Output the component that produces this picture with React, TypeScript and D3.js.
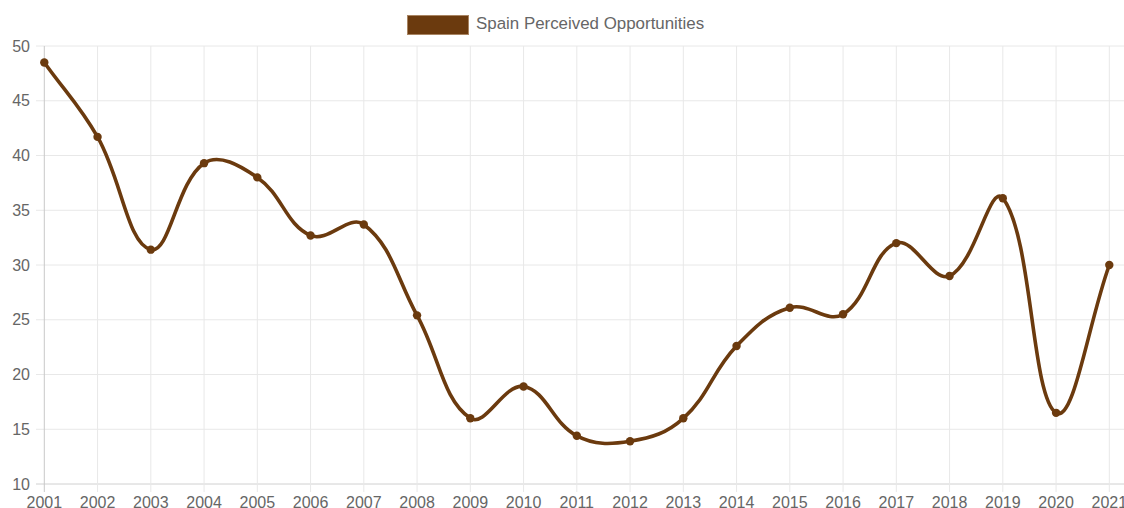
import React from 'react';
import * as d3 from 'd3';

const years = ['2001','2002','2003','2004','2005','2006','2007','2008','2009','2010','2011','2012','2013','2014','2015','2016','2017','2018','2019','2020','2021'];
const values = [48.5, 41.7, 31.4, 39.3, 38.0, 32.7, 33.7, 25.4, 16.0, 18.9, 14.4, 13.9, 16.0, 22.6, 26.1, 25.5, 32.0, 29.0, 36.1, 16.5, 30.0];
const yTicks = [10, 15, 20, 25, 30, 35, 40, 45, 50];
const seriesName = 'Spain Perceived Opportunities';

const W = 1124, H = 508;
const left = 44.3, right = 1109.3, top = 46, bottom = 484;
const color = '#6B3A0E';
const font = '"Liberation Sans", Arial, Helvetica, sans-serif';

function splinePath(pts: [number, number][], t: number): string {
  const n = pts.length;
  const cps = pts.map((cur, i) => {
    const prev = i > 0 ? pts[i - 1] : cur;
    const next = i < n - 1 ? pts[i + 1] : cur;
    const d01 = Math.hypot(cur[0] - prev[0], cur[1] - prev[1]);
    const d12 = Math.hypot(next[0] - cur[0], next[1] - cur[1]);
    let s01 = d01 / (d01 + d12);
    let s12 = d12 / (d01 + d12);
    if (isNaN(s01)) s01 = 0;
    if (isNaN(s12)) s12 = 0;
    const fa = t * s01, fb = t * s12;
    const clampX = (v: number) => Math.max(left, Math.min(right, v));
    const clampY = (v: number) => Math.max(top, Math.min(bottom, v));
    return {
      p: [clampX(cur[0] - fa * (next[0] - prev[0])), clampY(cur[1] - fa * (next[1] - prev[1]))],
      n: [clampX(cur[0] + fb * (next[0] - prev[0])), clampY(cur[1] + fb * (next[1] - prev[1]))],
    };
  });
  const path = d3.path();
  path.moveTo(pts[0][0], pts[0][1]);
  for (let i = 0; i < n - 1; i++) {
    path.bezierCurveTo(cps[i].n[0], cps[i].n[1], cps[i + 1].p[0], cps[i + 1].p[1], pts[i + 1][0], pts[i + 1][1]);
  }
  return path.toString();
}

export default function App() {
  const x = d3.scalePoint<string>().domain(years).range([left, right]);
  const y = d3.scaleLinear().domain([10, 50]).range([bottom, top]);
  const pts: [number, number][] = years.map((yr, i) => [x(yr) as number, y(values[i])]);
  const d = splinePath(pts, 0.4);

  return (
    <svg width={W} height={H} style={{ position: 'absolute', left: 0, top: 0, background: '#fff' }}>
      {yTicks.map((t) => (
        <line key={'h' + t} x1={36} x2={W} y1={y(t)} y2={y(t)} stroke={t === 10 ? '#d0d0d0' : '#e8e8e8'} strokeWidth={1} />
      ))}
      {years.map((yr, i) => (
        <line key={'v' + yr} x1={x(yr)} x2={x(yr)} y1={top} y2={bottom + 8} stroke={i === 0 ? '#c8c8c8' : '#e8e8e8'} strokeWidth={1} />
      ))}
      {yTicks.map((t) => (
        <text key={'yl' + t} x={30} y={y(t)} dy="0.35em" textAnchor="end" fontFamily={font} fontSize={16} fill="#666">{t}</text>
      ))}
      {years.map((yr) => (
        <text key={'xl' + yr} x={x(yr)} y={507.5} textAnchor="middle" fontFamily={font} fontSize={16} fill="#666">{yr}</text>
      ))}
      <path d={d} fill="none" stroke={color} strokeWidth={3.6} strokeLinejoin="round" />
      {pts.map((p, i) => (
        <circle key={'c' + i} cx={p[0]} cy={p[1]} r={4.2} fill={color} />
      ))}
      <rect x={407.5} y={15.5} width={61} height={19} fill={color} stroke="#a88462" strokeWidth={1} />
      <text x={476} y={29} fontFamily={font} fontSize={16.9} fill="#666">{seriesName}</text>
    </svg>
  );
}
